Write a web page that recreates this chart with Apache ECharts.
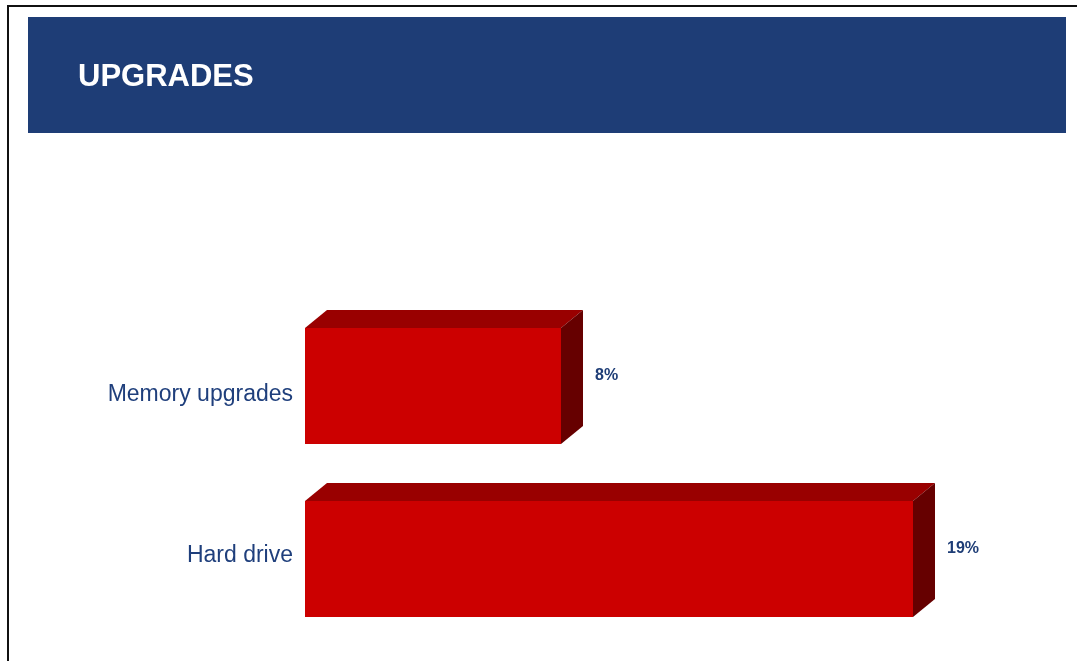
<!DOCTYPE html>
<html>
<head>
<meta charset="utf-8">
<title>Upgrades</title>
<script src="https://cdn.jsdelivr.net/npm/echarts@6/dist/echarts.min.js"></script>
<style>
  html, body { margin: 0; padding: 0; background: #ffffff; }
  #chart { width: 1077px; height: 661px; }
</style>
</head>
<body>
<div id="chart"></div>
<script>
// Share of respondents per upgrade type (%)
const categories = ['Memory upgrades', 'Hard drive'];
const values = [8, 19];
const valueLabels = ['8%', '19%'];

const NAVY = '#1e3d76';
const FRONT = '#cc0000';
const TOP = '#990000';
const SIDE = '#660000';
const DEPTH_X = 22;
const DEPTH_Y = 18;
const FONT = '"Liberation Sans", Arial, sans-serif';

const chart = echarts.init(document.getElementById('chart'), null, { renderer: 'canvas' });

// Extruded bar: front face, top face and right side face, plus its value label
function renderBar(params, api) {
  const idx = api.value(1);
  const start = api.coord([0, idx]);
  const end = api.coord([api.value(0), idx]);
  const band = api.size([0, 1])[1];
  const h = band * 0.67;
  const x0 = start[0];
  const x1 = end[0];
  const y0 = end[1] - h / 2;
  const y1 = y0 + h;
  return {
    type: 'group',
    children: [
      {
        type: 'polygon',
        shape: { points: [[x0, y0], [x0 + DEPTH_X, y0 - DEPTH_Y], [x1 + DEPTH_X, y0 - DEPTH_Y], [x1, y0]] },
        style: { fill: TOP }
      },
      {
        type: 'polygon',
        shape: { points: [[x1, y0], [x1 + DEPTH_X, y0 - DEPTH_Y], [x1 + DEPTH_X, y1 - DEPTH_Y], [x1, y1]] },
        style: { fill: SIDE }
      },
      {
        type: 'rect',
        shape: { x: x0, y: y0, width: x1 - x0, height: h },
        style: { fill: FRONT }
      },
      {
        type: 'text',
        style: {
          x: x1 + DEPTH_X + 12,
          y: end[1] - 10,
          text: valueLabels[params.dataIndex],
          fill: NAVY,
          font: 'bold 16px ' + FONT,
          textAlign: 'left',
          textVerticalAlign: 'middle'
        }
      }
    ]
  };
}

chart.setOption({
  backgroundColor: '#ffffff',
  animation: false,
  title: {
    text: 'UPGRADES',
    left: 73,
    top: 57,
    textStyle: {
      color: '#ffffff',
      fontSize: 31,
      fontWeight: 'bold',
      fontFamily: FONT
    }
  },
  graphic: [
    // frame lines along the top and left edges
    { type: 'line', z: -1, shape: { x1: 7, y1: 6, x2: 1077, y2: 6 }, style: { stroke: '#111111', lineWidth: 2 } },
    { type: 'line', z: -1, shape: { x1: 8, y1: 5, x2: 8, y2: 661 }, style: { stroke: '#111111', lineWidth: 2 } },
    // header banner
    { type: 'rect', z: -1, shape: { x: 28, y: 17, width: 1038, height: 116 }, style: { fill: NAVY } }
  ],
  grid: { left: 305, top: 299.5, width: 640, height: 346 },
  xAxis: {
    type: 'value',
    min: 0,
    max: 20,
    show: false
  },
  yAxis: {
    type: 'category',
    data: categories,
    inverse: true,
    axisLine: { show: false },
    axisTick: { show: false },
    splitLine: { show: false },
    axisLabel: {
      margin: 12,
      color: '#1f3f7c',
      fontSize: 23,
      fontFamily: FONT,
      // the upper label sits a little below its bar's centre, the lower one a little above
      formatter: (v, i) => (i === 0 ? '{lo|' + v + '}' : '{hi|' + v + '}'),
      rich: {
        lo: { fontSize: 23, color: '#1f3f7c', fontFamily: FONT, padding: [18, 0, 0, 0] },
        hi: { fontSize: 23, color: '#1f3f7c', fontFamily: FONT, padding: [0, 0, 6, 0] }
      }
    }
  },
  series: [{
    type: 'custom',
    renderItem: renderBar,
    encode: { x: 0, y: 1 },
    data: values.map((v, i) => [v, i])
  }]
});
</script>
</body>
</html>
